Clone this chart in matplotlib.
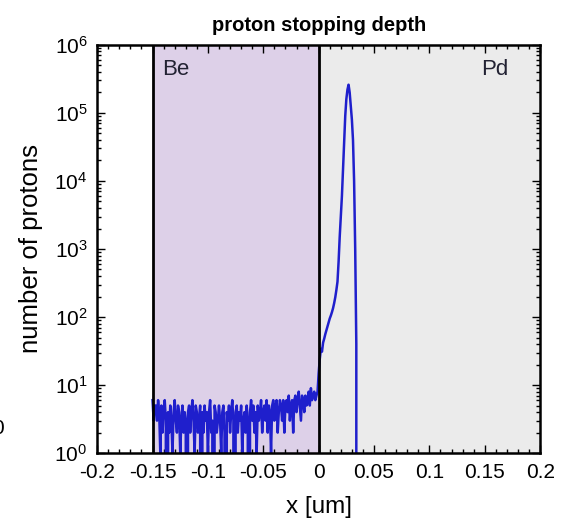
import numpy as np
import matplotlib
matplotlib.use("Agg")
import matplotlib.pyplot as plt
from matplotlib.ticker import LogLocator, MultipleLocator, NullFormatter

plt.rcParams['font.family'] = ['Liberation Sans', 'DejaVu Sans']
plt.rcParams['mathtext.default'] = 'regular'
plt.rcParams['axes.unicode_minus'] = False

# proton counts per 1 nm bin, Be layer (-0.150 .. -0.001 um)
be_x = np.arange(-0.150, 0.0, 0.001)
be_counts = [
    6, 3, 5, 5, 3, 6, 4, 1, 5, 2,
    4, 6, 3, 0, 4, 2, 5, 3, 1, 4,
    6, 3, 2, 5, 4, 1, 3, 5, 2, 4,
    3, 0, 4, 5, 2, 4, 6, 3, 1, 5,
    4, 2, 3, 5, 0, 4, 2, 5, 3, 4,
    1, 4, 6, 2, 3, 0, 5, 4, 2, 3,
    5, 3, 1, 4, 5, 2, 0, 4, 3, 5,
    2, 4, 6, 3, 0, 4, 5, 2, 4, 3,
    5, 1, 3, 4, 2, 5, 3, 0, 4, 6,
    3, 5, 2, 4, 1, 5, 3, 4, 6, 2,
    4, 5, 3, 6, 2, 5, 4, 1, 5, 6,
    3, 5, 6, 2, 4, 6, 5, 3, 6, 2,
    5, 6, 4, 7, 3, 5, 6, 2, 6, 7,
    4, 6, 8, 5, 3, 7, 6, 4, 7, 5,
    6, 8, 5, 9, 6, 7, 8, 6, 7, 8,
]

# Pd layer (0.000 .. 0.035 um)
pd_x = np.arange(0.0, 0.0355, 0.001)
pd_counts = [
    15, 24, 34, 31, 42, 48, 56, 64, 74, 84,
    95, 105, 118, 135, 160, 195, 250, 330, 650, 1500,
    3000, 6000, 15000, 40000, 90000, 160000, 220000, 260000, 200000, 126000,
    80000, 40000, 10000, 1000, 40, 0,
]

x = np.concatenate([be_x, pd_x])
counts = np.array(be_counts + pd_counts, dtype=float)

layers = ["Be", "Pd"]
layer_edges = [(-0.15, 0.0), (0.0, 0.2)]
layer_colors = ["#ddd0e8", "#ebebeb"]

fig = plt.figure(figsize=(5.65, 5.22), dpi=100)
ax = fig.add_axes([0.172, 0.132, 0.784, 0.782])

for (x0, x1), c in zip(layer_edges, layer_colors):
    ax.axvspan(x0, x1, color=c, lw=0, zorder=0)
for x0, _ in layer_edges:
    ax.axvline(x0, color="black", lw=2, zorder=3)

ax.plot(x, counts, color="#1f1fcc", lw=1.8, zorder=2)

ax.set_yscale("log", nonpositive="clip")
ax.set_xlim(-0.2, 0.2)
ax.set_ylim(1, 1e6)

ax.text(-0.141, 4.3e5, layers[0], fontsize=16, color="#222233", va="center", ha="left")
ax.text(0.171, 4.3e5, layers[1], fontsize=16, color="#222233", va="center", ha="right")

ax.xaxis.set_minor_locator(MultipleLocator(0.01))
ax.set_xticks([-0.2, -0.15, -0.1, -0.05, 0, 0.05, 0.1, 0.15, 0.2])
ax.set_xticklabels(["-0.2", "-0.15", "-0.1", "-0.05", "0", "0.05", "0.1", "0.15", "0.2"])
ax.yaxis.set_major_locator(LogLocator(base=10, numticks=10))
ax.yaxis.set_minor_locator(LogLocator(base=10, subs=np.arange(2, 10), numticks=10))
ax.yaxis.set_minor_formatter(NullFormatter())

ax.tick_params(which="both", direction="in", top=True, right=True, labelsize=15, pad=7)
ax.tick_params(which="major", length=6, width=1)
ax.tick_params(which="minor", length=3, width=1)
for s in ax.spines.values():
    s.set_linewidth(1.8)

ax.set_title("proton stopping depth", fontsize=14.5, fontweight="bold", pad=10)
ax.set_xlabel("x [um]", fontsize=17.5, labelpad=10)
ax.set_ylabel("number of protons", fontsize=18.5, labelpad=8)

# clipped label from a neighbouring panel
fig.text(-0.004, 0.18, "0", fontsize=15, ha="center", va="center")

fig.savefig("out.png", dpi=100)
